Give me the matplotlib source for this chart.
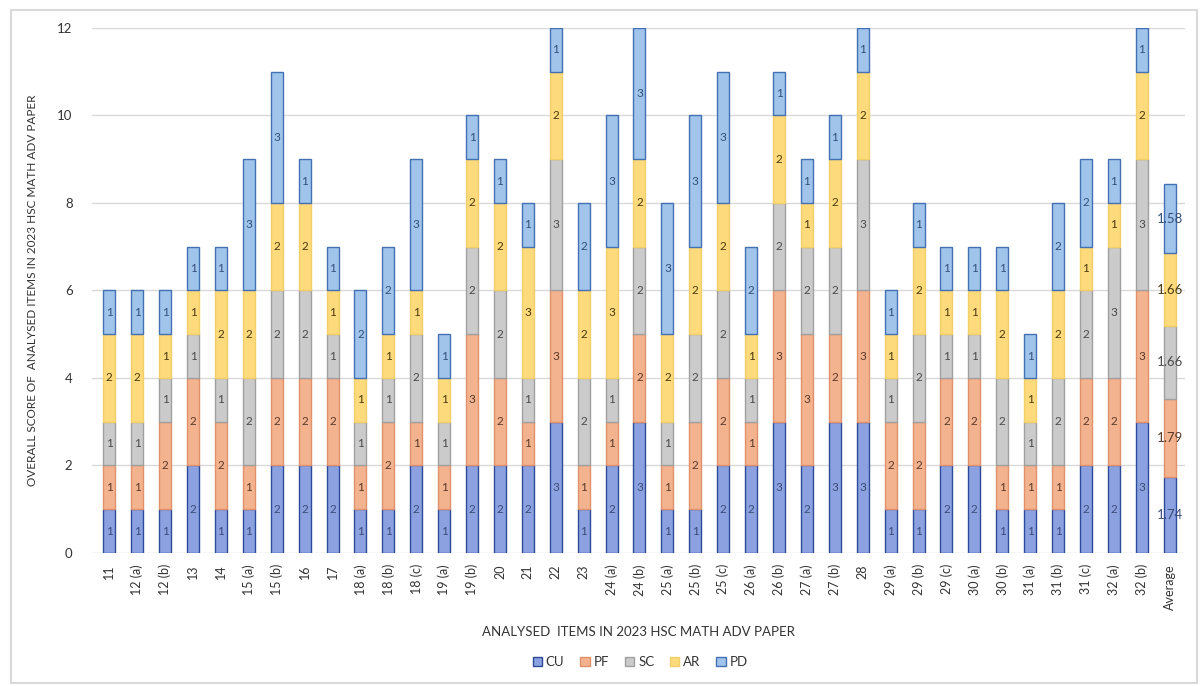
import matplotlib.pyplot as plt
import numpy as np

plt.rcParams['font.family'] = ['Lato', 'DejaVu Sans']

items = ["11", "12 (a)", "12 (b)", "13", "14", "15 (a)", "15 (b)", "16", "17",
         "18 (a)", "18 (b)", "18 (c)", "19 (a)", "19 (b)", "20", "21", "22", "23",
         "24 (a)", "24 (b)", "25 (a)", "25 (b)", "25 (c)", "26 (a)", "26 (b)",
         "27 (a)", "27 (b)", "28", "29 (a)", "29 (b)", "29 (c)", "30 (a)", "30 (b)",
         "31 (a)", "31 (b)", "31 (c)", "32 (a)", "32 (b)", "Average"]

cu = [1, 1, 1, 2, 1, 1, 2, 2, 2, 1, 1, 2, 1, 2, 2, 2, 3, 1, 2, 3, 1, 1, 2, 2, 3,
      2, 3, 3, 1, 1, 2, 2, 1, 1, 1, 2, 2, 3, 1.74]
pf = [1, 1, 2, 2, 2, 1, 2, 2, 2, 1, 2, 1, 1, 3, 2, 1, 3, 1, 1, 2, 1, 2, 2, 1, 3,
      3, 2, 3, 2, 2, 2, 2, 1, 1, 1, 2, 2, 3, 1.79]
sc = [1, 1, 1, 1, 1, 2, 2, 2, 1, 1, 1, 2, 1, 2, 2, 1, 3, 2, 1, 2, 1, 2, 2, 1, 2,
      2, 2, 3, 1, 2, 1, 1, 2, 1, 2, 2, 3, 3, 1.66]
ar = [2, 2, 1, 1, 2, 2, 2, 2, 1, 1, 1, 1, 1, 2, 2, 3, 2, 2, 3, 2, 2, 2, 2, 1, 2,
      1, 2, 2, 1, 2, 1, 1, 2, 1, 2, 1, 1, 2, 1.66]
pd_ = [1, 1, 1, 1, 1, 3, 3, 1, 1, 2, 2, 3, 1, 1, 1, 1, 1, 2, 3, 3, 3, 3, 3, 2, 1,
       1, 1, 1, 1, 1, 1, 1, 1, 1, 2, 2, 1, 1, 1.58]

series = [("CU", cu), ("PF", pf), ("SC", sc), ("AR", ar), ("PD", pd_)]
fills = {"CU": "#8ca2e0", "PF": "#f4b38f", "SC": "#cbcbcb", "AR": "#fdda7c", "PD": "#a0c4ea"}
edges = {"CU": "#2e4a9a", "PF": "#e0906a", "SC": "#a0a0a0", "AR": "#f3cf6a", "PD": "#4470b4"}
txt = {"CU": "#3c4a78", "PF": "#5a3a2a", "SC": "#4a4a4a", "AR": "#4a3a10", "PD": "#34507a"}

fig = plt.figure(figsize=(12.01, 6.86), dpi=100)
ax = fig.add_axes([0.0766, 0.1939, 0.9101, 0.7653])

x = np.arange(len(items))
bottom = np.zeros(len(items))
for name, vals in series:
    vals = np.array(vals, dtype=float)
    ax.bar(x, vals, 0.43, bottom=bottom, color=fills[name], edgecolor=edges[name],
           linewidth=1.0, label=name, zorder=3)
    for xi, b, v in zip(x, bottom, vals):
        if items[xi] == "Average":
            s = "%.2f" % v
            fs = 9.5
        else:
            s = "%d" % v
            fs = 8.5
        ax.text(xi, b + v / 2, s, ha="center", va="center", fontsize=fs,
                color=txt[name], zorder=4)
    bottom += vals

ax.set_xlim(-0.62, len(items) - 0.45)
ax.set_ylim(0, 12)
ax.set_yticks(range(0, 13, 2))
ax.set_xticks(x)
ax.set_xticklabels(items, rotation=90, fontsize=9, color="#333333")
ax.tick_params(axis="y", labelsize=9.5, colors="#333333", length=0, pad=14)
ax.tick_params(axis="x", length=0, pad=8)
ax.grid(axis="y", color="#d9d9d9", linewidth=1, zorder=0)
for sp in ax.spines.values():
    sp.set_visible(False)

ax.set_xlabel("ANALYSED  ITEMS IN 2023 HSC MATH ADV PAPER", fontsize=9.5,
              color="#333333", labelpad=12)
ax.set_ylabel("OVERALL SCORE OF  ANALYSED ITEMS IN 2023 HSC MATH ADV PAPER",
              fontsize=8.5, color="#333333", labelpad=14)

leg = fig.legend(loc="center", bbox_to_anchor=(0.533, 0.035), ncol=5, frameon=False,
                 fontsize=9.5, handlelength=0.7, handleheight=0.7, handletextpad=0.3,
                 columnspacing=1.2)
for t in leg.get_texts():
    t.set_color("#333333")

# thin frame round the whole chart
fig.patches.append(plt.Rectangle((0.009, 0.005), 0.988, 0.98, transform=fig.transFigure,
                                 fill=False, edgecolor="#d9d9d9", linewidth=1.5))

fig.savefig("out.png", dpi=100)
